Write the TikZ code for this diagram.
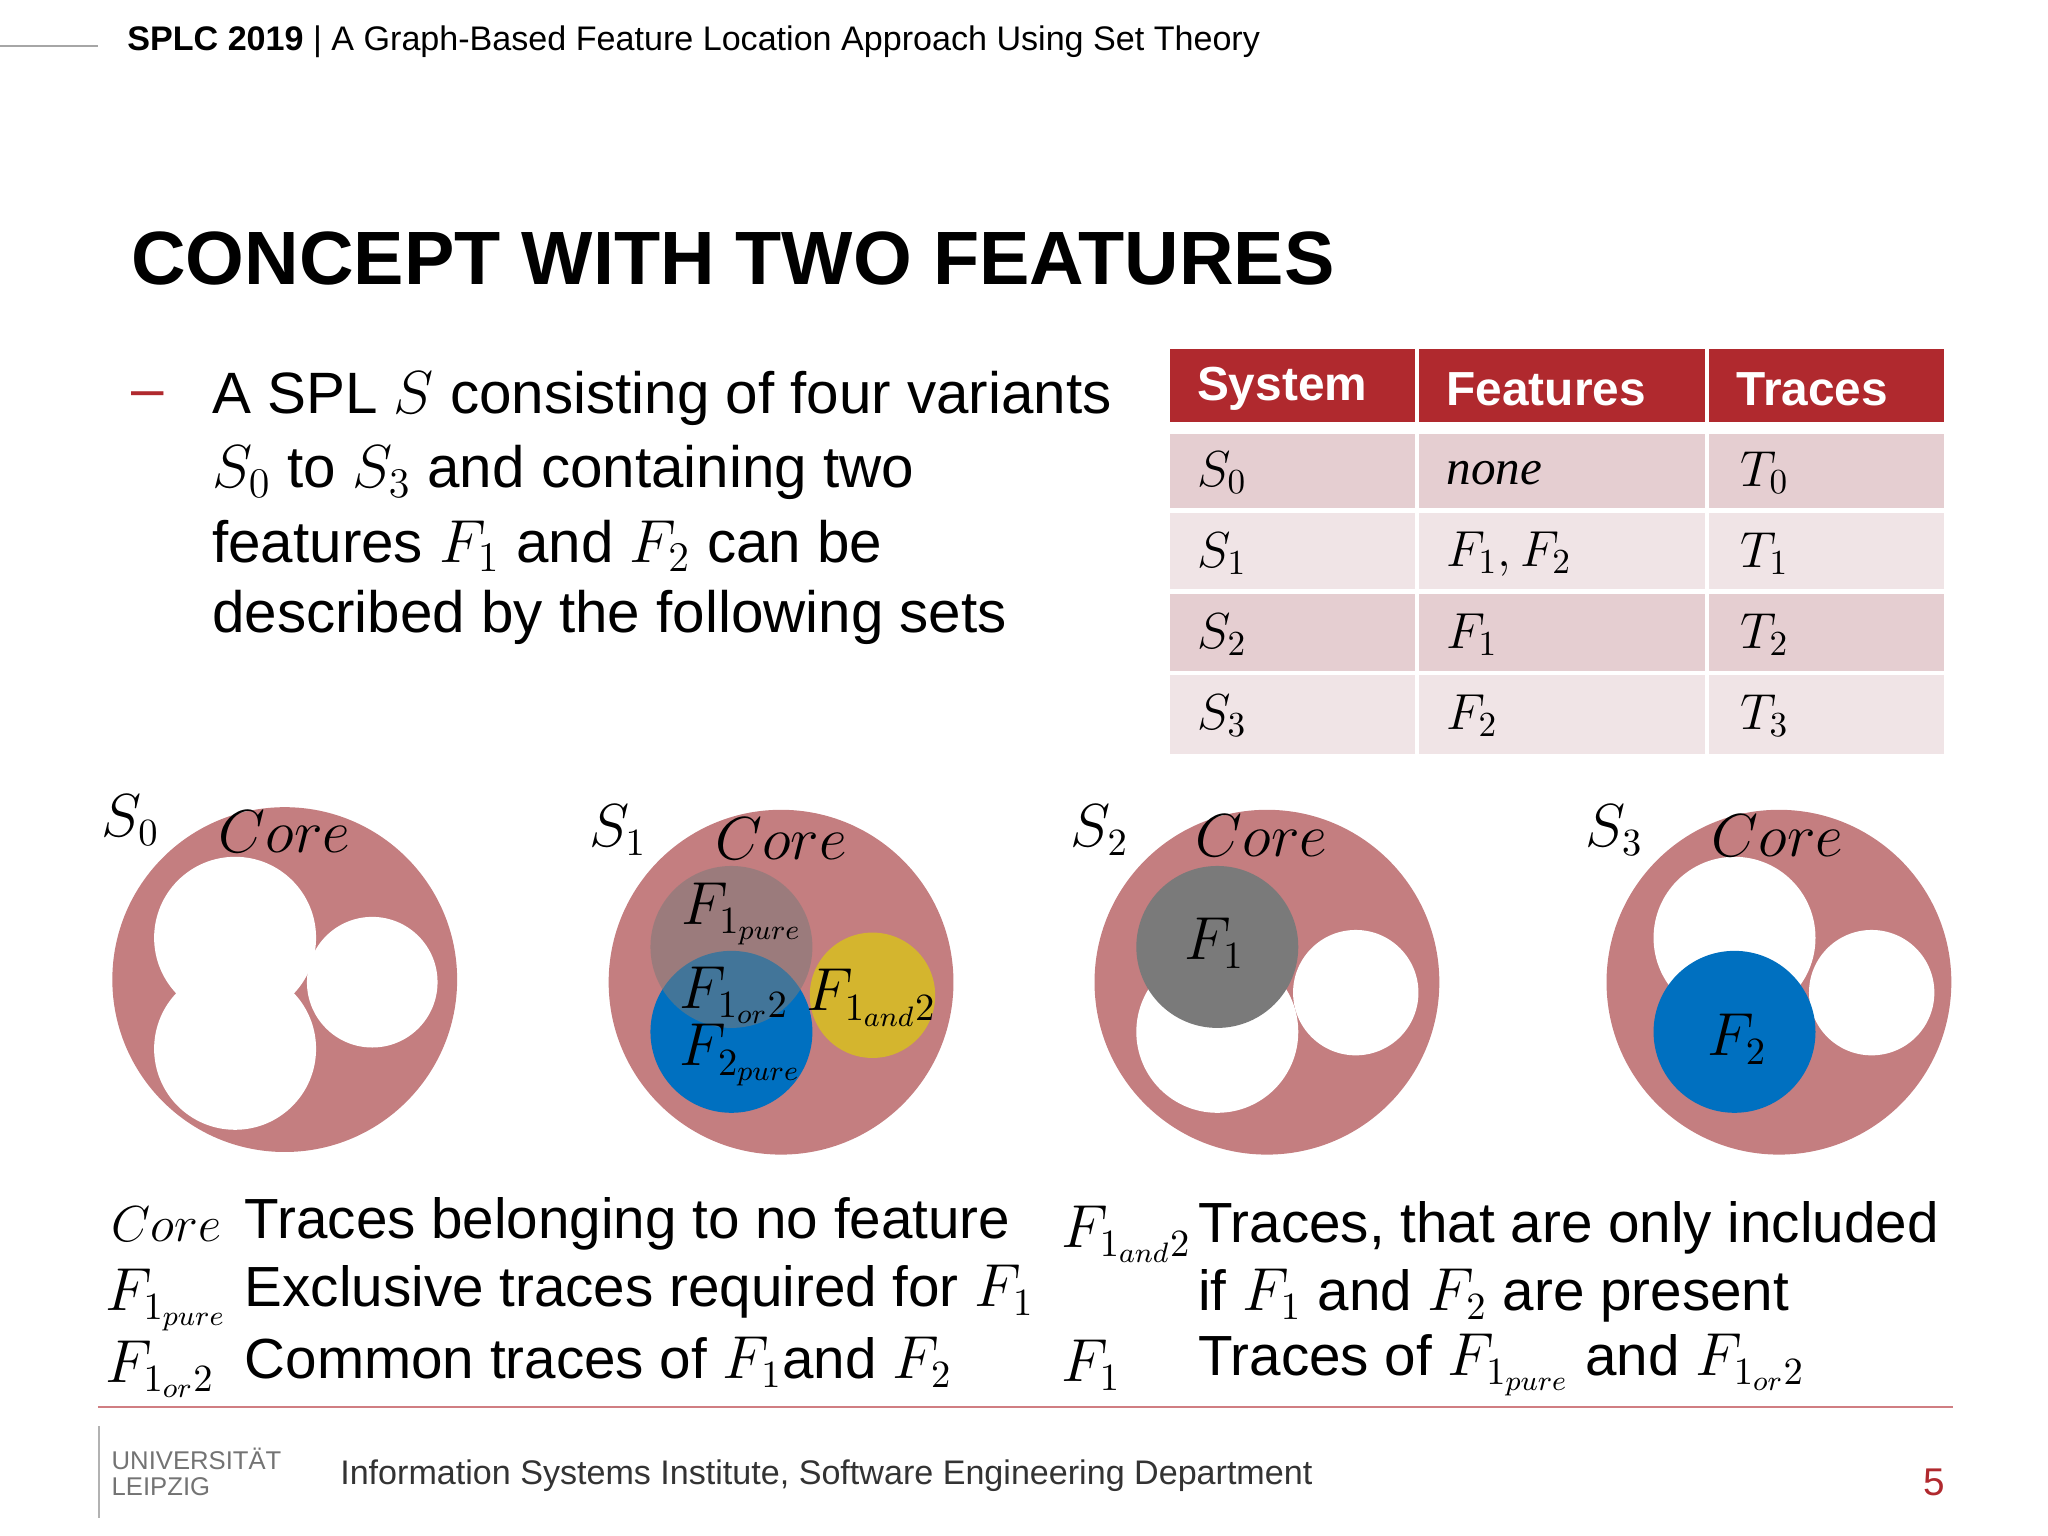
\documentclass[tikz,border=0pt]{standalone}
\usepackage{fontspec}
\setmainfont{Liberation Sans}
\definecolor{rose}{HTML}{C47E80}
\definecolor{hdr}{HTML}{B0292E}
\definecolor{rowa}{HTML}{E5CED1}
\definecolor{rowb}{HTML}{F0E4E6}
\definecolor{fblue}{HTML}{0070C0}
\definecolor{fgray}{HTML}{7A7A7A}
\definecolor{fyel}{HTML}{D4B52E}
\begin{document}
\begin{tikzpicture}[x=0.01306cm,y=-0.01306cm,
  body/.style={font=\fontsize{16.6}{19}\selectfont,anchor=west,inner sep=0},
  leg/.style={font=\fontsize{16.1}{19}\selectfont,anchor=west,inner sep=0},
  cell/.style={font=\fontsize{14}{16}\selectfont,anchor=west,inner sep=0},
  lab/.style={font=\fontsize{16}{20}\selectfont,inner sep=0},
  big/.style={fill=rose},
  hole/.style={fill=white}]
\useasboundingbox (0,0) rectangle (1568,1176);
% header
\draw[gray!70,line width=0.6pt] (0,35) -- (75,35);
\node[anchor=west,inner sep=0,font=\fontsize{9.7}{11}\selectfont] (hd) at (97,32) {\textbf{SPLC 2019} | A Graph-Based Feature Location Approach Using Set Theory};
\node[anchor=west,inner sep=0,font=\fontsize{21.5}{24}\selectfont\bfseries] (title) at (100,198) {CONCEPT WITH TWO FEATURES};
% bullet
\node[body,text=hdr] (dash) at (100,306) {--};
\node[body] (l1) at (162,305) {A SPL $S$ consisting of four variants};
\node[body] (l2) at (162,362) {$S_0$ to $S_3$ and containing two};
\node[body] (l3) at (162,418) {features $F_1$ and $F_2$ can be};
\node[body] (l4) at (162,473) {described by the following sets};
% table
\fill[hdr] (896,267) rectangle (1488,323);
\fill[rowa] (896,332) rectangle (1488,389);
\fill[rowb] (896,393) rectangle (1488,451);
\fill[rowa] (896,455) rectangle (1488,514);
\fill[rowb] (896,517) rectangle (1488,577);
\foreach \x in {1085,1307} \fill[white] (\x-1.5,267) rectangle (\x+1.5,577);
\node[cell,text=white,font=\fontsize{13.6}{16}\selectfont\bfseries] (h1) at (916,298) {System};
\node[cell,text=white,font=\fontsize{13.6}{16}\selectfont\bfseries] (h2) at (1107,298) {Features};
\node[cell,text=white,font=\fontsize{13.6}{16}\selectfont\bfseries] (h3) at (1329,298) {Traces};
\node[cell] (a1) at (916,362) {$S_0$};
\node[cell] (a2) at (1107,362) {\itshape\fontspec{Liberation Serif}none};
\node[cell] (a3) at (1332,362) {$T_0$};
\node[cell] (b1) at (916,424) {$S_1$};
\node[cell] (b2) at (1107,424) {$F_1, F_2$};
\node[cell] (b3) at (1332,424) {$T_1$};
\node[cell] (c1) at (916,486) {$S_2$};
\node[cell] (c2) at (1107,486) {$F_1$};
\node[cell] (c3) at (1332,486) {$T_2$};
\node[cell] (d1) at (916,548) {$S_3$};
\node[cell] (d2) at (1107,548) {$F_2$};
\node[cell] (d3) at (1332,548) {$T_3$};
% S0
\fill[big] (218,750) circle (132);
\fill[hole] (180,718) circle (62);
\fill[hole] (180,803) circle (62);
\fill[hole] (285,752) circle (50);
\node[lab] (s0) at (100,628) {$S_0$};
\node[lab] (c0) at (218,637) {$Core$};
% S1
\fill[big] (598,752) circle (132);
\fill[fblue] (560,790) circle (62);
\fill[fgray,opacity=0.55] (560,725) circle (62);
\fill[fyel] (668,762) circle (48);
\node[lab] (s1) at (473,636) {$S_1$};
\node[lab] (cc1) at (598,642) {$Core$};
\node[lab] (f1p) at (568,700) {$F_{1_{pure}}$};
\node[lab] (f1o) at (562,762) {$F_{1_{or}2}$};
\node[lab] (f2p) at (567,808) {$F_{2_{pure}}$};
\node[lab] (f1a) at (667,764) {$F_{1_{and}2}$};
% S2
\fill[big] (970,752) circle (132);
\fill[hole] (932,790) circle (62);
\fill[hole] (1038,760) circle (48);
\fill[fgray] (932,725) circle (62);
\node[lab] (s2) at (842,636) {$S_2$};
\node[lab] (cc2) at (966,640) {$Core$};
\node[lab] (f1) at (930,722) {$F_1$};
% S3
\fill[big] (1362,752) circle (132);
\fill[hole] (1328,718) circle (62);
\fill[hole] (1433,760) circle (48);
\fill[fblue] (1328,790) circle (62);
\node[lab] (s3) at (1236,636) {$S_3$};
\node[lab] (cc3) at (1361,640) {$Core$};
\node[lab] (f2) at (1330,796) {$F_2$};
% legend
\node[leg,font=\fontsize{15}{19}\selectfont] (k1) at (85,937) {$Core$};
\node[leg] (t1) at (187,937) {Traces belonging to no feature};
\node[leg] (k2) at (80,995) {$F_{1_{pure}}$};
\node[leg] (t2) at (187,989) {Exclusive traces required for $F_1$};
\node[leg] (k3) at (80,1048) {$F_{1_{or}2}$};
\node[leg] (t3) at (187,1043) {Common traces of $F_1$and $F_2$};
\node[leg] (k4) at (812,945) {$F_{1_{and}2}$};
\node[leg] (t4) at (917,940) {Traces, that are only included};
\node[leg] (t5) at (917,992) {if $F_1$ and $F_2$ are present};
\node[leg] (k5) at (812,1045) {$F_1$};
\node[leg] (t6) at (917,1045) {Traces of $F_{1_{pure}}$ and $F_{1_{or}2}$};
% footer
\draw[hdr!60,line width=0.6pt] (75,1077) -- (1495,1077);
\draw[gray!60,line width=0.6pt] (76,1092) -- (76,1162);
\node[anchor=west,inner sep=0,font=\fontsize{7.3}{8}\selectfont,text=gray!90!black] (u1) at (85,1117) {UNIVERSITÄT};
\node[anchor=west,inner sep=0,font=\fontsize{7.3}{8}\selectfont,text=gray!90!black] (u2) at (85,1138) {LEIPZIG};
\node[anchor=west,inner sep=0,font=\fontsize{9.7}{12}\selectfont,text=black!80] (ft) at (260,1130) {Information Systems Institute, Software Engineering Department};
\node[anchor=east,inner sep=0,font=\fontsize{11}{12}\selectfont,text=hdr] (pg) at (1490,1135) {5};
\end{tikzpicture}
\end{document}
